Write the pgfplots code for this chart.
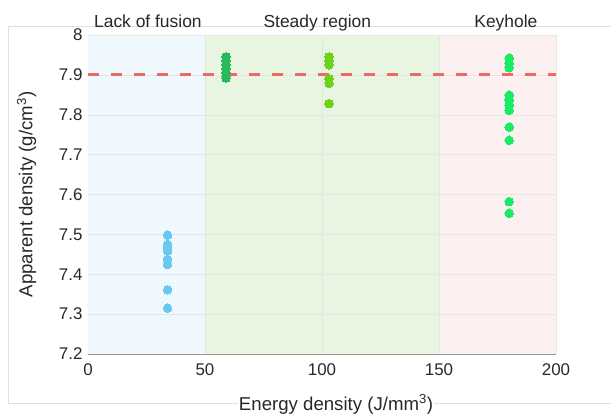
\documentclass[border=0pt]{standalone}
\usepackage{pgfplots}
\pgfplotsset{compat=1.18}
\usepackage{fontspec}
\setmainfont{Liberation Sans}
\definecolor{bgblue}{RGB}{239,248,253}
\definecolor{bggreen}{RGB}{232,245,224}
\definecolor{bgpink}{RGB}{253,240,240}
\definecolor{cblue}{RGB}{105,200,240}
\definecolor{cdkgreen}{RGB}{40,185,90}
\definecolor{clime}{RGB}{110,210,25}
\definecolor{cbright}{RGB}{25,235,100}
\definecolor{cred}{RGB}{240,90,90}
\definecolor{txt}{RGB}{40,40,40}
\begin{document}
\begin{tikzpicture}
\useasboundingbox (-88bp,-60bp) rectangle (523bp,354bp);
\draw[black!12, line width=0.8bp] (-80bp,-49bp) rectangle (530bp,328bp);
\begin{axis}[
  at={(0,0)}, anchor=south west,
  scale only axis, width=468bp, height=319bp,
  xmin=0, xmax=200, ymin=7.2, ymax=8,
  clip=false,
  axis x line*=bottom, axis y line*=left,
  axis line style={-, black!45, line width=0.6bp},
  xtick={0,50,100,150,200},
  ytick={7.2,7.3,7.4,7.5,7.6,7.7,7.8,7.9,8},
  yticklabels={7.2,7.3,7.4,7.5,7.6,7.7,7.8,7.9,8},
  xticklabels={0,50,100,150,200},
  tick align=inside,
  major tick length=3bp,
  tick style={black!45, line width=0.5bp},
  ticklabel style={font=\fontsize{17}{20}\selectfont, text=txt},
  xticklabel style={yshift=-6bp},
  yticklabel style={xshift=-2bp},
  /pgf/number format/assume math mode=true,
  xlabel={Energy density (J/mm\textsuperscript{3})},
  ylabel={Apparent density (g/cm\textsuperscript{3})},
  xlabel style={font=\fontsize{18.7}{22}\selectfont, text=txt, at={(axis description cs:0.53,0)}, anchor=base, yshift=-56bp, fill=white, inner sep=1bp},
  ylabel style={font=\fontsize{18.7}{22}\selectfont, text=txt, at={(axis description cs:-0.131,0.5)}, anchor=center},
]
% background regions
\addplot[draw=none, fill=bgblue] coordinates {(0,7.2) (50,7.2) (50,8) (0,8) (0,7.2)};
\addplot[draw=none, fill=bggreen] coordinates {(50,7.2) (150,7.2) (150,8) (50,8) (50,7.2)};
\addplot[draw=none, fill=bgpink] coordinates {(150,7.2) (200,7.2) (200,8) (150,8) (150,7.2)};
% grid lines
\addplot[black!10, line width=0.5bp, forget plot] coordinates {(50,7.2) (50,8)};
\addplot[black!10, line width=0.5bp, forget plot] coordinates {(100,7.2) (100,8)};
\addplot[black!10, line width=0.5bp, forget plot] coordinates {(150,7.2) (150,8)};
\addplot[black!10, line width=0.5bp, forget plot] coordinates {(200,7.2) (200,8)};
\addplot[black!10, line width=0.5bp, forget plot] coordinates {(0,7.3) (200,7.3)};
\addplot[black!10, line width=0.5bp, forget plot] coordinates {(0,7.4) (200,7.4)};
\addplot[black!10, line width=0.5bp, forget plot] coordinates {(0,7.5) (200,7.5)};
\addplot[black!10, line width=0.5bp, forget plot] coordinates {(0,7.6) (200,7.6)};
\addplot[black!10, line width=0.5bp, forget plot] coordinates {(0,7.7) (200,7.7)};
\addplot[black!10, line width=0.5bp, forget plot] coordinates {(0,7.8) (200,7.8)};
\addplot[black!10, line width=0.5bp, forget plot] coordinates {(0,7.9) (200,7.9)};
\addplot[black!10, line width=0.5bp, forget plot] coordinates {(0,8) (200,8)};

\addplot[cblue, only marks, mark=*, mark size=4.3bp, mark options={draw=cblue, fill=cblue, line width=0pt}] coordinates {
(34,7.498) (34,7.475) (34,7.466) (34,7.458) (34,7.437) (34,7.424) (34,7.361) (34,7.315)};
\addplot[cdkgreen, only marks, mark=*, mark size=4.3bp, mark options={draw=cdkgreen, fill=cdkgreen, line width=0pt}] coordinates {
(59,7.945) (59,7.935) (59,7.925) (59,7.915) (59,7.905) (59,7.897) (59,7.892)};
\addplot[clime, only marks, mark=*, mark size=4.3bp, mark options={draw=clime, fill=clime, line width=0pt}] coordinates {
(103,7.945) (103,7.935) (103,7.925) (103,7.890) (103,7.879) (103,7.828)};
\addplot[cbright, only marks, mark=*, mark size=4.3bp, mark options={draw=cbright, fill=cbright, line width=0pt}] coordinates {
(180,7.942) (180,7.929) (180,7.918) (180,7.849) (180,7.837) (180,7.824) (180,7.811) (180,7.769) (180,7.736) (180,7.582) (180,7.553)};

\addplot[cred, opacity=0.9, dash pattern=on 11bp off 12bp, line width=3bp] coordinates {(0,7.9) (200,7.9)};

\node[anchor=base, yshift=8bp, font=\fontsize{17.5}{20}\selectfont, text=txt] at (axis cs:25.6,8) {Lack of fusion};
\node[anchor=base, yshift=8bp, font=\fontsize{17.5}{20}\selectfont, text=txt] at (axis cs:98,8) {Steady region};
\node[anchor=base, yshift=8bp, font=\fontsize{17.5}{20}\selectfont, text=txt] at (axis cs:178.6,8) {Keyhole};
\end{axis}
\end{tikzpicture}
\end{document}
